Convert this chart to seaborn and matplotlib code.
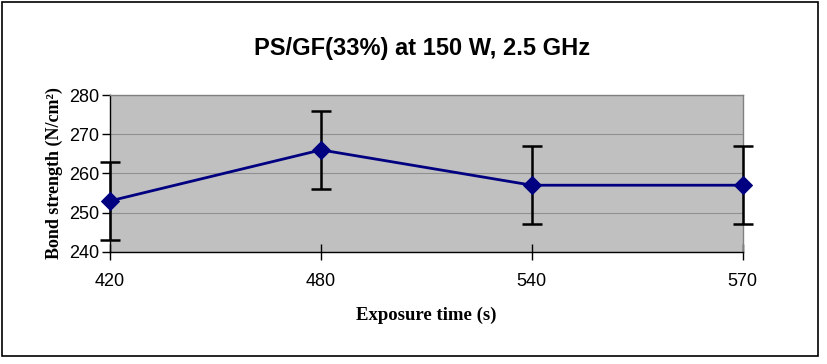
import matplotlib
matplotlib.use("Agg")
import matplotlib.pyplot as plt
import seaborn as sns
import pandas as pd
from matplotlib.patches import Rectangle

# data
exposure = ["420", "480", "540", "570"]
strength = [253, 266, 257, 257]
error = [10, 10, 10, 10]

df = pd.DataFrame({"pos": range(len(exposure)), "strength": strength})

sns.set_style("white")
plt.rcParams["font.family"] = ["Liberation Sans", "DejaVu Sans"]
plt.rcParams["text.color"] = "black"
plt.rcParams["axes.labelcolor"] = "black"
plt.rcParams["xtick.color"] = "black"
plt.rcParams["ytick.color"] = "black"

fig = plt.figure(figsize=(8.28, 3.64), dpi=100)
ax = fig.add_axes([0.133, 0.308, 0.764, 0.431])
ax.set_facecolor("#c0c0c0")

# outer border of the chart
fig.patches.append(Rectangle((0.003, 0.022), 0.985, 0.972, transform=fig.transFigure,
                             fill=False, edgecolor="black", linewidth=1.2))

ax.errorbar(df["pos"], df["strength"], yerr=error, fmt="none", ecolor="black",
            elinewidth=1.8, capsize=7, capthick=1.8, zorder=3, clip_on=False)
sns.lineplot(data=df, x="pos", y="strength", ax=ax, color="#000080", linewidth=2,
             marker="D", markersize=9, markeredgecolor="#000080", zorder=4, clip_on=False)

ax.set_xlim(0, 3)
ax.set_ylim(240, 280)
ax.set_yticks([240, 250, 260, 270, 280])
ax.set_xticks(df["pos"])
ax.set_xticklabels(exposure)
ax.yaxis.grid(True, color="#909090", linewidth=0.8)
ax.set_axisbelow(True)

for side in ["top", "right"]:
    ax.spines[side].set_color("#808080")
    ax.spines[side].set_linewidth(1)
for side in ["left", "bottom"]:
    ax.spines[side].set_color("black")
    ax.spines[side].set_linewidth(1)

ax.tick_params(axis="y", direction="out", length=6, width=1, color="black",
               labelsize=13, left=True, pad=2)
ax.tick_params(axis="x", direction="inout", length=12, width=1, color="black",
               labelsize=13, bottom=True, pad=9)

ax.set_xlabel("Exposure time (s)", fontfamily="Liberation Serif", fontweight="bold",
              fontsize=13.5, labelpad=12)
ax.set_ylabel("Bond strength (N/cm²)", fontfamily="Liberation Serif", fontweight="bold",
              fontsize=13, labelpad=4)
fig.text(0.51, 0.868, "PS/GF(33%) at 150 W, 2.5 GHz", ha="center", va="center",
         fontsize=17, fontweight="bold")

fig.savefig("out.png", dpi=100)
